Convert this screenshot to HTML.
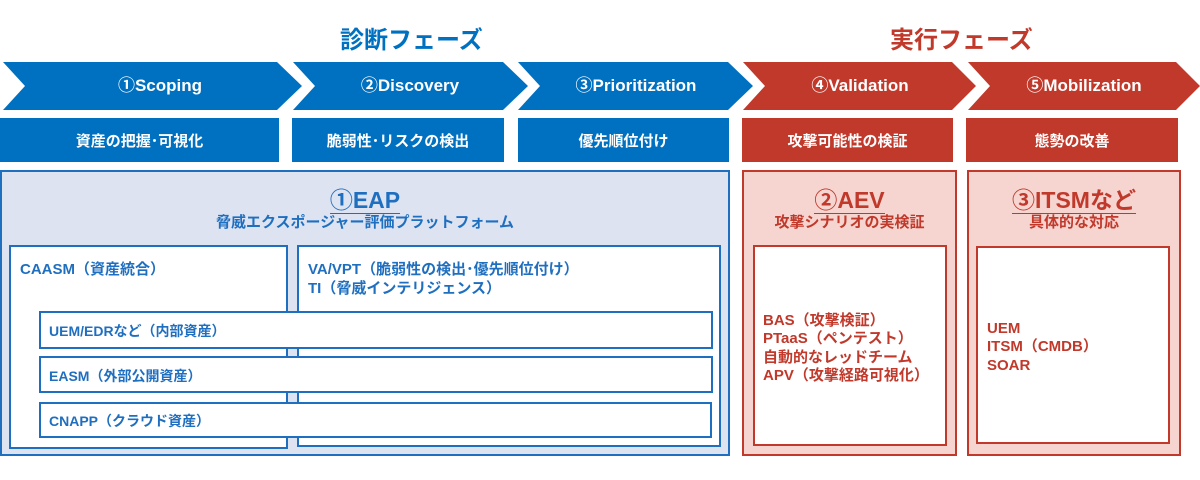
<!DOCTYPE html>
<html><head><meta charset="utf-8"><style>
*{margin:0;padding:0;box-sizing:border-box}
body{width:1200px;height:480px;background:#fff;position:relative;overflow:hidden;font-family:"Liberation Sans","Noto Sans CJK JP",sans-serif;font-weight:bold}
.a{position:absolute}
.t{position:absolute;white-space:nowrap}
.bx{position:absolute;color:#fff;font-size:15px;display:flex;align-items:center;justify-content:center}
.b{background:#0070c0}.r{background:#c0392b}
.ib{position:absolute;border:2px solid #1f6fc0;background:#fff}
.ir{position:absolute;border:2px solid #c0392b;background:#fff}
.bt{color:#1f6fc0;font-size:15px;line-height:19px}
.rt{color:#c0392b;font-size:15px;line-height:18.3px}
</style></head><body>
<div class="t" style="left:340px;top:20px;font-size:24px;color:#0070c0;">診断フェーズ</div>
<div class="t" style="left:890px;top:20px;font-size:24px;color:#c0392b;">実行フェーズ</div>
<svg class="a" style="left:0;top:0" width="1200" height="120">
<polygon points="3,62 277,62 302,86 277,110 3,110 25,86" fill="#0070c0"/>
<polygon points="293,62 503,62 528,86 503,110 293,110 315,86" fill="#0070c0"/>
<polygon points="518,62 728,62 753,86 728,110 518,110 540,86" fill="#0070c0"/>
<polygon points="743,62 952,62 976,86 952,110 743,110 765,86" fill="#c0392b"/>
<polygon points="968,62 1176,62 1200,86 1176,110 968,110 990,86" fill="#c0392b"/>
<g fill="#fff" font-size="17" font-weight="bold" text-anchor="middle" font-family="Liberation Sans,Noto Sans CJK JP,sans-serif">
<text x="160" y="91">①Scoping</text><text x="410" y="91">②Discovery</text><text x="636" y="91">③Prioritization</text><text x="860" y="91">④Validation</text><text x="1084" y="91">⑤Mobilization</text></g>
</svg>
<div class="bx b" style="left:0;top:118px;width:279px;height:44px">資産の把握･可視化</div>
<div class="bx b" style="left:292px;top:118px;width:212px;height:44px">脆弱性･リスクの検出</div>
<div class="bx b" style="left:518px;top:118px;width:211px;height:44px">優先順位付け</div>
<div class="bx r" style="left:742px;top:118px;width:211px;height:44px">攻撃可能性の検証</div>
<div class="bx r" style="left:966px;top:118px;width:212px;height:44px">態勢の改善</div>

<div class="a" style="left:0;top:170px;width:730px;height:286px;background:#dde3f0;border:2px solid #1f6fc0"></div>
<div class="t" style="left:0;width:730px;text-align:center;top:181px;font-size:23px;color:#1f6fc0;"><span style="border-bottom:1.5px solid #1f6fc0">①EAP</span></div>
<div class="t" style="left:0;width:730px;text-align:center;top:211px;font-size:15px;color:#1f6fc0;">脅威エクスポージャー評価プラットフォーム</div>
<div class="ib" style="left:9px;top:245px;width:279px;height:204px"></div>
<div class="ib" style="left:297px;top:245px;width:424px;height:202px"></div>
<div class="t bt" style="left:20px;top:260px">CAASM（資産統合）</div>
<div class="t bt" style="left:308px;top:260px">VA/VPT（脆弱性の検出･優先順位付け）<br>TI（脅威インテリジェンス）</div>
<div class="ib" style="left:39px;top:311px;width:674px;height:38px"></div>
<div class="ib" style="left:39px;top:356px;width:674px;height:37px"></div>
<div class="ib" style="left:39px;top:402px;width:673px;height:36px"></div>
<div class="t bt" style="left:49px;top:322px;font-size:14px">UEM/EDRなど（内部資産）</div>
<div class="t bt" style="left:49px;top:367px;font-size:14px">EASM（外部公開資産）</div>
<div class="t bt" style="left:49px;top:412px;font-size:14px">CNAPP（クラウド資産）</div>

<div class="a" style="left:742px;top:170px;width:215px;height:286px;background:#f6d5d0;border:2px solid #c0392b"></div>
<div class="a" style="left:967px;top:170px;width:214px;height:286px;background:#f6d5d0;border:2px solid #c0392b"></div>
<div class="t" style="left:742px;width:215px;text-align:center;top:181px;font-size:23px;color:#c0392b;"><span style="border-bottom:1.5px solid #c0392b">②AEV</span></div>
<div class="t" style="left:742px;width:215px;text-align:center;top:211px;font-size:15px;color:#c0392b;">攻撃シナリオの実検証</div>
<div class="t" style="left:967px;width:214px;text-align:center;top:181px;font-size:23px;color:#c0392b;"><span style="border-bottom:1.5px solid #c0392b">③ITSMなど</span></div>
<div class="t" style="left:967px;width:214px;text-align:center;top:211px;font-size:15px;color:#c0392b;">具体的な対応</div>
<div class="ir" style="left:753px;top:245px;width:194px;height:201px"></div>
<div class="ir" style="left:976px;top:246px;width:194px;height:198px"></div>
<div class="t rt" style="left:763px;top:312px">BAS（攻撃検証）<br>PTaaS（ペンテスト）<br>自動的なレッドチーム<br>APV（攻撃経路可視化）</div>
<div class="t rt" style="left:987px;top:320px">UEM<br>ITSM（CMDB）<br>SOAR</div>
</body></html>
